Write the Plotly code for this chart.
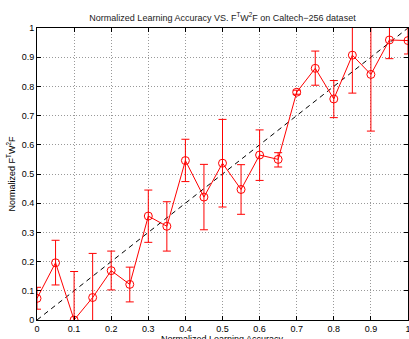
import plotly.graph_objects as go

x_vals = [0.0, 0.05, 0.1, 0.15, 0.2, 0.25, 0.3, 0.35, 0.4, 0.45, 0.5,
          0.55, 0.6, 0.65, 0.7, 0.75, 0.8, 0.85, 0.9, 0.95, 1.0]
y_vals = [0.074, 0.196, 0.0, 0.077, 0.169, 0.122, 0.356, 0.321, 0.546, 0.421, 0.537,
          0.447, 0.565, 0.550, 0.780, 0.862, 0.757, 0.907, 0.841, 0.959, 0.957]
err_plus = [0.038, 0.077, 0.166, 0.151, 0.067, 0.059, 0.089, 0.084, 0.073, 0.112, 0.150,
            0.085, 0.086, 0.023, 0.007, 0.059, 0.063, 0.130, 0.194, 0.064, 0.046]
err_minus = [0.037, 0.076, 0.166, 0.151, 0.066, 0.060, 0.090, 0.085, 0.072, 0.112, 0.150,
             0.085, 0.087, 0.026, 0.007, 0.058, 0.064, 0.130, 0.194, 0.064, 0.046]
ref_x = [0, 1]
ref_y = [0, 1]
x_title = "Normalized Learning Accuracy"
y_title = "Normalized F<sup>T</sup>W<sup>2</sup>F"
chart_title = "Normalized Learning Accuracy VS. F<sup>T</sup>W<sup>2</sup>F on Caltech\u2212256 dataset"

font = "Liberation Sans, Arial, sans-serif"

fig = go.Figure()
fig.add_trace(go.Scatter(
    x=ref_x, y=ref_y, mode="lines",
    line=dict(color="black", width=1, dash="5px,4px"),
    showlegend=False, hoverinfo="skip"))
fig.add_trace(go.Scatter(
    x=x_vals, y=y_vals, mode="lines+markers",
    line=dict(color="#ff0000", width=1),
    marker=dict(symbol="circle-open", size=8, color="#ff0000", line=dict(width=1)),
    error_y=dict(type="data", symmetric=False, array=err_plus, arrayminus=err_minus,
                 color="#ff0000", thickness=1, width=4),
    showlegend=False))

axis_common = dict(
    range=[0, 1], dtick=0.1, tick0=0,
    showgrid=True, gridcolor="#999999", griddash="1px,2px", gridwidth=1,
    showline=True, linecolor="black", linewidth=1, mirror="allticks",
    ticks="inside", ticklen=4, tickcolor="black",
    zeroline=False, automargin=False, ticklabeloverflow="allow",
    tickfont=dict(family=font, size=9, color="black"),
)

fig.update_layout(
    width=409, height=339,
    margin=dict(l=37, r=1, t=28, b=19),
    paper_bgcolor="white", plot_bgcolor="white",
    title=dict(text=chart_title,
               x=0.5, xanchor="center", xref="paper", y=1 - 18 / 339, yanchor="middle",
               font=dict(family=font, size=9, color="#222222")),
    xaxis=dict(axis_common),
    yaxis=dict(axis_common, title=dict(text=y_title, standoff=4,
                                       font=dict(family=font, size=9, color="black"))),
    annotations=[dict(text=x_title, xref="paper", yref="paper", x=0.5, y=0,
                      xanchor="center", yanchor="top", yshift=-12, showarrow=False,
                      font=dict(family=font, size=9, color="black"))],
)

fig.write_html("out.html")
